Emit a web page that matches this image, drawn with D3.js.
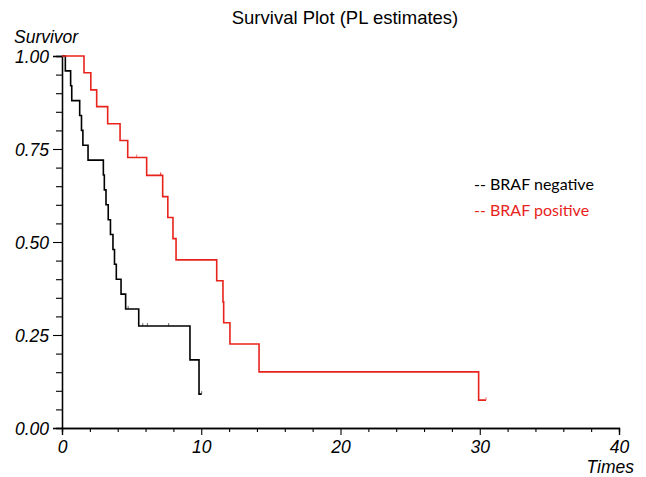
<!DOCTYPE html>
<html>
<head>
<meta charset="utf-8">
<script src="https://cdn.jsdelivr.net/npm/d3@7"></script>
<style>
  body { margin: 0; background: #fff; }
  svg text { font-family: "Liberation Sans", Arial, sans-serif; }
</style>
</head>
<body>
<svg id="km" width="646" height="477"></svg>
<script>
// BRAF negative: event times and survival after each step
const negTimes = [0, 0.24, 0.62, 0.70, 1.27, 1.40, 1.50, 1.87, 2.97, 3.04, 3.16, 3.32, 3.48, 3.66, 3.77, 3.90, 4.24, 4.57, 5.51, 9.19, 9.84];
const negSurv = [1, 0.96, 0.92, 0.88, 0.84, 0.80, 0.76, 0.72, 0.68, 0.64, 0.60, 0.56, 0.52, 0.48, 0.44, 0.40, 0.36, 0.32, 0.274, 0.183, 0.091];
const negCensor = [4.75, 5.80, 6.13, 7.66, 10.03];

// BRAF positive
const posTimes = [0, 1.58, 2.07, 2.49, 3.28, 4.17, 4.72, 6.08, 7.23, 7.60, 7.97, 8.19, 11.11, 11.56, 11.61, 12.06, 14.15, 29.92];
const posSurv = [1, 0.955, 0.909, 0.864, 0.818, 0.773, 0.727, 0.679, 0.622, 0.566, 0.509, 0.452, 0.396, 0.339, 0.283, 0.226, 0.151, 0.075];
const posCensor = [5.36, 7.07, 7.10, 30.45];

const xMajor = [0, 10, 20, 30, 40];
const xMinor = [2, 4, 6, 8, 12, 14, 16, 18, 22, 24, 26, 28, 32, 34, 36, 38];
const yMajor = [0, 0.25, 0.5, 0.75, 1];
const yMinor = [0.05, 0.1, 0.15, 0.2, 0.3, 0.35, 0.4, 0.45, 0.55, 0.6, 0.65, 0.7, 0.8, 0.85, 0.9, 0.95];

const legendNames = ["BRAF negative", "BRAF positive"];
const colors = ["#000000", "#e8231c"];

const svg = d3.select("#km");

// scales
const x = d3.scaleLinear().domain([0, 40]).range([62, 619]);
const y = d3.scaleLinear().domain([0, 1]).range([428, 56]);

// title
svg.append("text")
    .attr("x", 345).attr("y", 24)
    .attr("text-anchor", "middle")
    .style("font-size", "18.5px")
    .text("Survival Plot (PL estimates)");

// y axis
const yAxis = svg.append("g").attr("transform", "translate(62,0)");
yAxis.call(d3.axisLeft(y).tickValues(yMajor).tickSize(9).tickFormat(d3.format(".2f")));
yAxis.append("g").call(d3.axisLeft(y).tickValues(yMinor).tickSize(6).tickFormat(""));

// x axis
const xAxis = svg.append("g").attr("transform", "translate(0,428)");
xAxis.call(d3.axisBottom(x).tickValues(xMajor).tickSize(7).tickFormat(d3.format("d")));
xAxis.append("g").call(d3.axisBottom(x).tickValues(xMinor).tickSize(4).tickFormat(""));

svg.selectAll(".domain").attr("stroke", "#000").attr("stroke-width", 1.3);
svg.selectAll(".tick line").attr("stroke", "#000").attr("stroke-width", 1.1);
svg.selectAll(".tick text")
    .style("font-size", "17.5px")
    .style("font-style", "italic")
    .attr("fill", "#000");
yAxis.selectAll(".tick text").attr("x", -13).attr("dy", "0.36em");
xAxis.selectAll(".tick text").attr("y", 11).attr("dy", "0.8em");

// axis titles
svg.append("text")
    .attr("x", 14).attr("y", 43)
    .style("font-size", "17.5px")
    .style("font-style", "italic")
    .text("Survivor");
svg.append("text")
    .attr("x", 634).attr("y", 473)
    .attr("text-anchor", "end")
    .style("font-size", "17.5px")
    .style("font-style", "italic")
    .text("Times");

// survival curves
const step = d3.line()
    .x(d => x(d[0]))
    .y(d => y(d[1]))
    .curve(d3.curveStepAfter);

const groups = [
    { times: negTimes, surv: negSurv, censor: negCensor, color: colors[0] },
    { times: posTimes, surv: posSurv, censor: posCensor, color: colors[1] }
];

groups.forEach(g => {
    const pts = g.times.map((t, i) => [t, g.surv[i]]);
    const lastS = g.surv[g.surv.length - 1];
    pts.push([d3.max(g.censor), lastS]);

    svg.append("path")
        .datum(pts)
        .attr("fill", "none")
        .attr("stroke", g.color)
        .attr("stroke-width", 1.6)
        .attr("d", step);

    // censor marks
    const survAt = t => {
        let s = 1;
        g.times.forEach((tt, i) => { if (tt <= t) s = g.surv[i]; });
        return s;
    };
    svg.append("g")
        .selectAll("line")
        .data(g.censor)
        .enter()
        .append("line")
        .attr("x1", d => x(d)).attr("x2", d => x(d))
        .attr("y1", d => y(survAt(d)))
        .attr("y2", d => y(survAt(d)) - 3)
        .attr("stroke", g.color)
        .attr("stroke-opacity", 0.6)
        .attr("stroke-width", 1);
});

// legend
const legend = svg.append("g").attr("transform", "translate(474,190)");
legendNames.forEach((name, i) => {
    legend.append("text")
        .attr("x", 0).attr("y", i * 26)
        .attr("fill", colors[i])
        .style("font-family", "Lato, 'Open Sans', sans-serif")
        .style("font-size", "16px")
        .text("-- " + name);
});
</script>
</body>
</html>
